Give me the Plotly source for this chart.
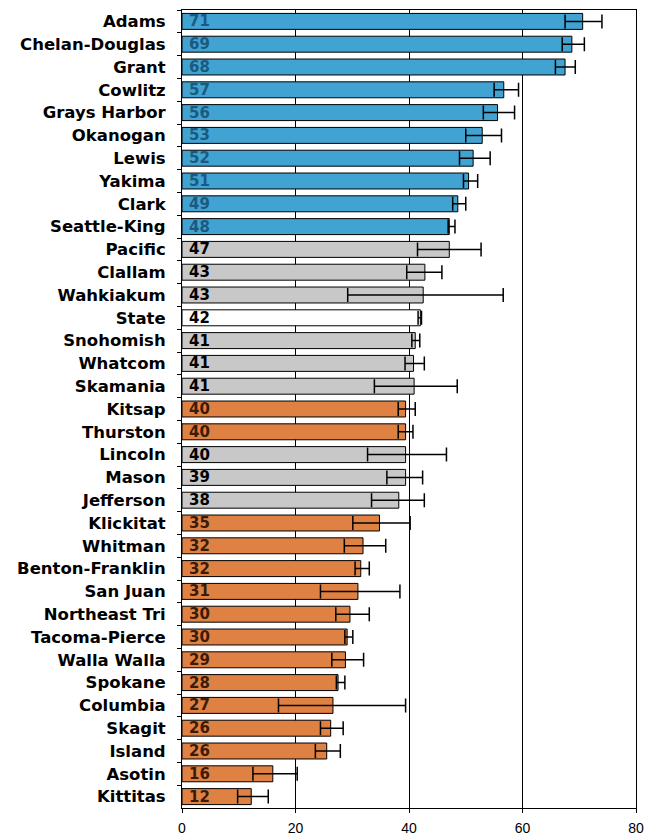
import plotly.graph_objects as go

counties = ["Adams", "Chelan-Douglas", "Grant", "Cowlitz", "Grays Harbor", "Okanogan",
            "Lewis", "Yakima", "Clark", "Seattle-King", "Pacific", "Clallam", "Wahkiakum",
            "State", "Snohomish", "Whatcom", "Skamania", "Kitsap", "Thurston", "Lincoln",
            "Mason", "Jefferson", "Klickitat", "Whitman", "Benton-Franklin", "San Juan",
            "Northeast Tri", "Tacoma-Pierce", "Walla Walla", "Spokane", "Columbia",
            "Skagit", "Island", "Asotin", "Kittitas"]
values = [70.6, 68.7, 67.5, 56.7, 55.6, 52.9, 51.3, 50.5, 48.6, 47.1, 47.1, 42.8, 42.5,
          42.0, 41.1, 40.8, 40.9, 39.4, 39.4, 39.4, 39.4, 38.2, 34.8, 31.9, 31.5, 31.0,
          29.6, 29.1, 28.8, 27.5, 26.6, 26.2, 25.5, 16.0, 12.2]
lower = [67.5, 67.0, 65.8, 55.0, 53.1, 50.0, 48.9, 49.6, 47.7, 46.9, 41.5, 39.6, 29.2,
         41.6, 40.5, 39.3, 33.9, 38.1, 38.1, 32.7, 36.1, 33.4, 30.1, 28.6, 30.5, 24.4,
         27.1, 28.7, 26.4, 27.2, 17.0, 24.4, 23.5, 12.5, 9.8]
upper = [74.0, 70.9, 69.3, 59.3, 58.6, 56.3, 54.3, 52.1, 50.0, 48.1, 52.7, 45.8, 56.6,
         42.2, 41.9, 42.7, 48.5, 41.1, 40.7, 46.6, 42.4, 42.7, 40.2, 35.9, 33.0, 38.4,
         33.0, 30.1, 32.0, 28.7, 39.4, 28.4, 27.9, 20.3, 15.2]
labels = ["71", "69", "68", "57", "56", "53", "52", "51", "49", "48", "47", "43", "43",
          "42", "41", "41", "41", "40", "40", "40", "39", "38", "35", "32", "32", "31",
          "30", "30", "29", "28", "27", "26", "26", "16", "12"]
groups = ["above"] * 10 + ["similar", "similar", "similar", "state", "similar", "similar",
          "similar", "below", "below", "similar", "similar", "similar"] + ["below"] * 13
x_ticks = [0, 20, 40, 60, 80]

fill = {"above": "#41a3d1", "similar": "#c8c8c8", "state": "#ffffff", "below": "#e08144"}
txtcol = {"above": "#1b5a80", "similar": "#000000", "state": "#000000", "below": "#3a1c08"}

fig = go.Figure()
fig.add_trace(go.Bar(
    y=counties, x=values, orientation="h",
    marker=dict(color=[fill[g] for g in groups], line=dict(color="#000000", width=1)),
    error_x=dict(type="data", symmetric=False,
                 array=[u - v for u, v in zip(upper, values)],
                 arrayminus=[v - l for v, l in zip(values, lower)],
                 color="#000000", thickness=1.5, width=7),
    hoverinfo="skip",
))

for c, lab, g in zip(counties, labels, groups):
    fig.add_annotation(x=0, y=c, text="<b>" + lab + "</b>", showarrow=False,
                       xanchor="left", yanchor="middle", xshift=5,
                       font=dict(family="DejaVu Sans", size=15, color=txtcol[g]))

fig.update_layout(
    width=648, height=840,
    margin=dict(l=182, r=12, t=10, b=32),
    paper_bgcolor="#ffffff", plot_bgcolor="#ffffff",
    bargap=0.3, showlegend=False,
    font=dict(family="Liberation Sans, Arial", color="#000000"),
)
fig.update_xaxes(range=[0, 80], tickvals=x_ticks, ticktext=[str(t) for t in x_ticks],
                 showgrid=True, gridcolor="#000000", gridwidth=1, zeroline=False,
                 showline=True, linecolor="#000000", linewidth=1, mirror=True,
                 ticks="outside", ticklen=4, tickcolor="#000000", ticklabelstandoff=3,
                 automargin=False,
                 tickfont=dict(family="Liberation Sans, Arial", size=14))
fig.update_yaxes(autorange="reversed", showline=True, linecolor="#000000", linewidth=1,
                 mirror=True, ticks="outside", ticklen=4, tickcolor="#000000",
                 tickson="boundaries", showgrid=False, ticklabelstandoff=12,
                 automargin=False,
                 tickfont=dict(family="DejaVu Sans", size=16.5, weight="bold"))

fig.write_html("out.html")
